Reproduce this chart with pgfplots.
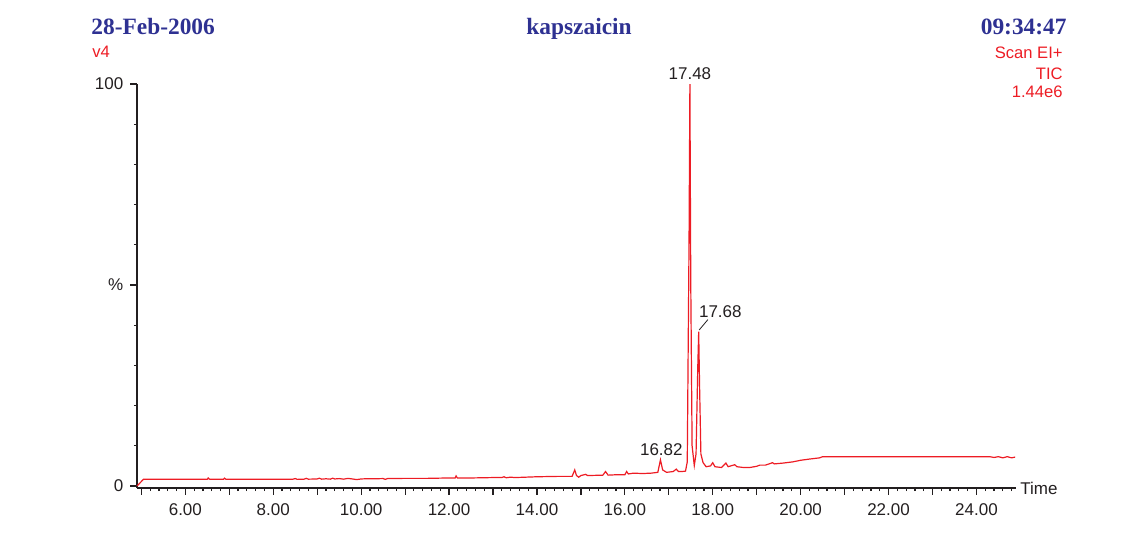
\documentclass[border=0pt]{standalone}
\usepackage{fontspec}
\setmainfont{Liberation Sans}
\newfontfamily\titlefont{Liberation Serif}
\usepackage{pgfplots}
\pgfplotsset{compat=1.18}
\definecolor{trace}{RGB}{237,28,36}
\definecolor{navy}{RGB}{46,49,146}
\definecolor{ink}{RGB}{35,31,32}
\begin{document}
\begin{tikzpicture}
\path[use as bounding box] (0,0) rectangle (571.5pt,269pt);
\node[anchor=base west,text=navy,font=\titlefont\bfseries\fontsize{11.7}{13}\selectfont,inner sep=0pt] at (45.5pt,252pt) {28-Feb-2006};
\node[anchor=base,text=navy,font=\titlefont\bfseries\fontsize{11.7}{13}\selectfont,inner sep=0pt] at (289.5pt,252pt) {kapszaicin};
\node[anchor=base east,text=navy,font=\titlefont\bfseries\fontsize{11.7}{13}\selectfont,inner sep=0pt] at (533.5pt,252pt) {09:34:47};
\node[anchor=base west,text=trace,font=\fontsize{8.3}{10}\selectfont,inner sep=0pt] at (46pt,240.5pt) {v4};
\node[anchor=base east,text=trace,font=\fontsize{8.3}{10}\selectfont,inner sep=0pt] at (531.5pt,240pt) {Scan EI+};
\node[anchor=base east,text=trace,font=\fontsize{8.3}{10}\selectfont,inner sep=0pt] at (531.5pt,229.5pt) {TIC};
\node[anchor=base east,text=trace,font=\fontsize{8.3}{10}\selectfont,inner sep=0pt] at (531.5pt,220.5pt) {1.44e6};
\begin{axis}[
  at={(68.5pt,25pt)}, anchor=south west,
  scale only axis, width=439.5pt, height=202pt,
  xmin=4.9, xmax=24.9, ymin=-0.5, ymax=100,
  axis x line=bottom, axis y line=left,
  axis line style={-, line width=1pt, color=ink},
  tick align=outside,
  tick style={color=ink, line width=0.6pt},
  major tick length=3.3pt, minor tick length=1.6pt,
  xtick={5,6,...,24},
  xticklabels={,6.00,,8.00,,10.00,,12.00,,14.00,,16.00,,18.00,,20.00,,22.00,,24.00},
  minor xtick={5,5.2,...,24.9},
  ytick={0,50,100}, yticklabels={0,\%,100},
  minor ytick={10,20,30,40,60,70,80,90},
  /pgf/number format/assume math mode=true,
  ticklabel style={font=\fontsize{8.5}{10}\selectfont, text=ink},
  xticklabel style={yshift=-1pt},
  clip=false,
]
\addplot[trace, line width=0.6pt] coordinates {
(4.90,0) (5.05,1.7) (5.5,1.7) (6.0,1.7) (6.50,1.7) (6.52,2.0) (6.55,1.7) (6.87,1.7) (6.89,1.95) (6.92,1.7)
(7.5,1.7) (8.0,1.7) (8.45,1.7) (8.5,1.85) (8.55,1.65) (8.7,1.7) (8.75,1.9) (8.8,1.7) (9.0,1.75) (9.05,1.95)
(9.1,1.7) (9.2,1.8) (9.3,1.7) (9.35,1.95) (9.4,1.75) (9.5,1.85) (9.6,1.7) (9.7,1.9) (9.8,1.75) (9.9,1.6)
(10.0,1.75) (10.1,1.8) (10.3,1.8) (10.5,1.85) (10.55,1.65) (10.6,1.85) (11,1.9) (11.5,1.9) (12.0,2.0)
(12.14,2.0) (12.16,2.5) (12.19,2.0) (12.5,2.0) (13.0,2.1) (13.2,2.1) (13.25,2.3) (13.3,2.05) (13.4,2.2)
(13.5,2.1) (14.0,2.3) (14.5,2.4) (14.8,2.4) (14.86,4.0) (14.9,2.6) (14.95,2.2) (15.0,2.6) (15.11,2.9)
(15.15,2.6) (15.5,2.7) (15.56,3.6) (15.62,2.7) (15.8,2.8) (16.0,2.8) (16.04,3.6) (16.08,3.0) (16.2,3.2)
(16.4,3.1) (16.6,3.2) (16.75,3.4) (16.81,6.5) (16.86,4.0) (16.95,3.4) (17.1,3.6) (17.17,4.2) (17.22,3.6)
(17.3,3.6) (17.38,3.7) (17.42,6) (17.46,60) (17.48,100) (17.50,50) (17.53,10) (17.58,5.1) (17.62,8)
(17.66,30) (17.68,38.4) (17.70,25) (17.73,8) (17.78,5.8) (17.85,4.8) (17.95,5.0) (18.0,5.8) (18.05,4.8)
(18.2,4.6) (18.3,5.7) (18.35,4.8) (18.5,5.3) (18.55,4.8) (18.7,4.6) (18.84,4.6) (19.0,4.9) (19.07,5.2)
(19.2,5.2) (19.36,5.8) (19.4,5.5) (19.6,5.7) (19.82,6.0) (20.0,6.4) (20.2,6.7) (20.43,7.0) (20.5,7.3)
(21,7.3) (22,7.3) (23,7.3) (24.0,7.3) (24.3,7.3) (24.4,7.1) (24.5,7.3) (24.6,7.0) (24.7,7.3) (24.8,7.0) (24.88,7.2)
};
\node[anchor=base, font=\fontsize{8.5}{10}\selectfont, text=ink, inner sep=0pt] at (axis cs:17.48,100) [yshift=2.5pt] {17.48};
\node[anchor=base, font=\fontsize{8.5}{10}\selectfont, text=ink, inner sep=0pt] at (axis cs:16.83,7.7) {16.82};
\node[anchor=base west, font=\fontsize{8.5}{10}\selectfont, text=ink, inner sep=0pt] at (axis cs:17.68,41.8) {17.68};
\draw[ink, line width=0.4pt] (axis cs:17.69,38.8) -- (axis cs:17.89,41.4);
\node[anchor=west, font=\fontsize{8.5}{10}\selectfont, text=ink, inner sep=0pt] at (axis cs:24.9,-0.5) [xshift=2pt] {Time};
\end{axis}
\end{tikzpicture}
\end{document}
